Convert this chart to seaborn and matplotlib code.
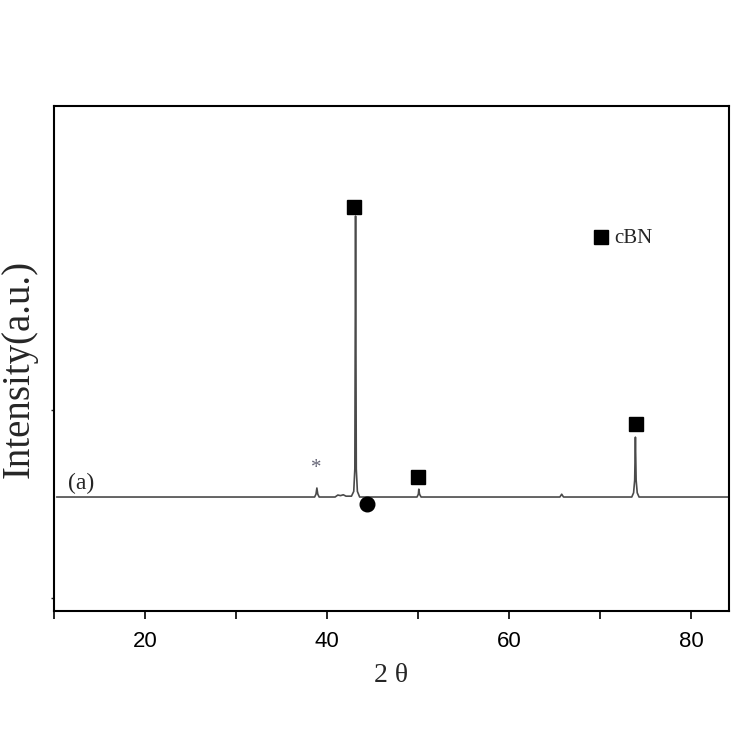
import matplotlib
matplotlib.use("Agg")
import matplotlib.pyplot as plt
import seaborn as sns
import pandas as pd

# XRD pattern vertices (2θ in degrees, intensity in a.u.)
two_theta = [10.3, 38.65, 38.8, 38.9, 39.0, 39.15, 40.9, 41.2, 41.5, 41.8, 42.1, 42.7,
             42.95, 43.07, 43.15, 43.23, 43.35, 43.6, 49.9, 50.05, 50.1, 50.18, 50.35,
             65.6, 65.8, 66.0, 73.5, 73.7, 73.82, 73.9, 73.98, 74.1, 74.3, 84.2]
intensity = [0.0, 0.0, 1.0, 3.2, 1.0, 0.0, 0.0, 0.7, 0.5, 0.8, 0.3, 0.3,
             2.0, 10.0, 100.0, 10.0, 2.0, 0.0, 0.0, 1.0, 2.8, 1.0, 0.0,
             0.0, 1.0, 0.0, 0.0, 1.5, 6.0, 21.3, 6.0, 1.5, 0.0, 0.0]

# phase markers
cbn_pos = [42.95, 50.0, 73.95]
cbn_lvl = [103.2, 7.1, 26.0]
other_pos = [44.4]
other_lvl = [-2.5]
star_pos, star_lvl = 38.8, 10.3

x_ticks = [20, 40, 60, 80]
x_minor = [10, 30, 50, 70]

sns.set_style("white")
plt.rcParams['font.family'] = ['Liberation Sans', 'DejaVu Sans']

fig = plt.figure(figsize=(7.38, 7.38), dpi=100)
ax = fig.add_axes([0.073, 0.172, 0.915, 0.684])

df = pd.DataFrame({"two_theta": two_theta, "intensity": intensity})
sns.lineplot(data=df, x="two_theta", y="intensity", ax=ax, color="#4a4a4a",
             linewidth=1.2, sort=False, estimator=None)

ax.plot(cbn_pos, cbn_lvl, linestyle="none", marker="s", markersize=9.5, color="black")
ax.plot(other_pos, other_lvl, linestyle="none", marker="o", markersize=10.5, color="black")
ax.text(star_pos, star_lvl, "*", fontsize=15, color="#666677", ha="center", va="center",
        family="Liberation Serif")

# legend-like annotation
ax.plot([70.1], [92.5], linestyle="none", marker="s", markersize=10, color="black")
ax.text(71.6, 92.0, "cBN", fontsize=15, family="Liberation Serif", ha="left", va="center")
ax.text(11.5, 4.8, "(a)", fontsize=17, family="Liberation Serif", ha="left", va="center")

ax.set_xlim(10, 84.2)
ax.set_ylim(-40.6, 139.1)
ax.set_xticks(x_ticks)
ax.set_xticks(x_minor, minor=True)
ax.set_xticklabels([str(t) for t in x_ticks], fontsize=16, color="black")
ax.tick_params(axis="x", which="both", direction="out", length=6, width=1.2, pad=8,
               bottom=True, color="black")
ax.set_yticks([31, -36])
ax.set_yticklabels([])
ax.tick_params(axis="y", which="both", direction="out", length=2, width=1, left=True)

for s in ax.spines.values():
    s.set_color("black")
    s.set_linewidth(1.5)

ax.set_xlabel("2 θ", fontsize=20, family="Liberation Serif", labelpad=8)
ax.set_ylabel("Intensity(a.u.)", fontsize=28, family="Liberation Serif")
ax.yaxis.set_label_coords(-0.024, 0.479)

fig.savefig("out.png", dpi=100, facecolor="white")
